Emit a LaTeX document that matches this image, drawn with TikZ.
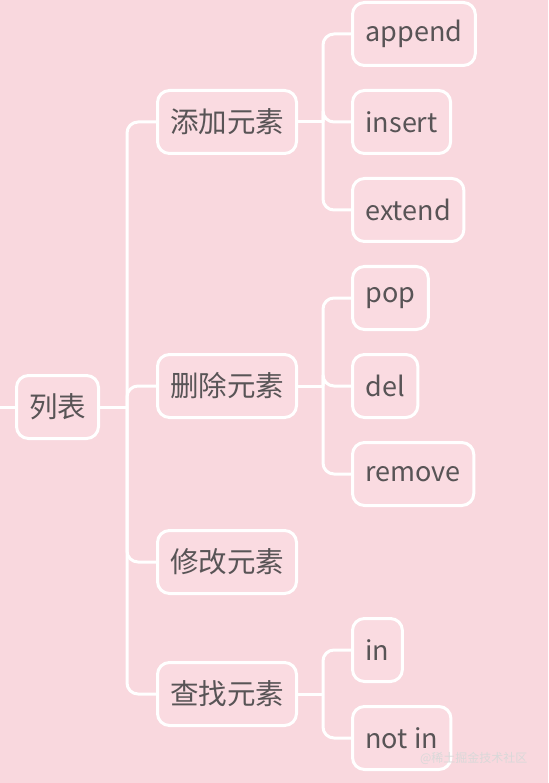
\documentclass[tikz,border=0pt]{standalone}
\usepackage{fontspec}
\setmainfont{Noto Sans CJK SC}
\definecolor{bgpink}{RGB}{249,216,222}
\definecolor{boxpink}{RGB}{250,219,225}
\definecolor{txtgray}{RGB}{88,84,86}
\tikzset{
  topic/.style={draw=white, line width=3pt, rounded corners=12pt, fill=boxpink,
    text=txtgray, font=\fontsize{27}{30}\selectfont, minimum height=63pt,
    inner xsep=13pt, anchor=west},
  cntopic/.style={topic, font=\fontsize{28.5}{31}\selectfont, inner xsep=12.5pt},
  conn/.style={draw=white, line width=3pt, rounded corners=11pt}
}
\begin{document}
\begin{tikzpicture}[x=1pt, y=-1pt]
  \fill[bgpink] (0,0) rectangle (548,783);
  \useasboundingbox (0,0) rectangle (548,783);
  % root and branches
  \node[cntopic] (root) at (15,407) {列表};
  \node[cntopic] (add)  at (156,122) {添加元素};
  \node[cntopic] (del)  at (156,386) {删除元素};
  \node[cntopic] (mod)  at (156,562) {修改元素};
  \node[cntopic] (find) at (156,694) {查找元素};
  % leaves
  \node[topic] (append) at (351,34)  {append};
  \node[topic] (insert) at (351,122) {insert};
  \node[topic] (extend) at (351,210) {extend};
  \node[topic] (pop)    at (351,298) {pop};
  \node[topic] (delkw)  at (351,386) {del};
  \node[topic] (remove) at (351,474) {remove};
  \node[topic] (in)     at (351,650) {in};
  \node[topic] (notin)  at (351,738) {not in};
  % connectors
  \coordinate (rootin) at (0,407);
  \coordinate (rootfork) at (127,407);
  \draw[conn] (rootin) -- (root.west);
  \draw[conn] (root.east) -- (rootfork);
  \foreach \c in {add,del,mod,find}
    \draw[conn] (rootfork) |- (\c.west);
  \foreach \p/\kids in {add/{append,insert,extend}, del/{pop,delkw,remove}, find/{in,notin}} {
    \coordinate (\p fork) at (323,0 |- \p.east);
    \draw[conn] (\p.east) -- (\p fork);
    \foreach \k in \kids
      \draw[conn] (\p fork) |- (\k.west);
  }
  \node[text=white!70!gray, font=\fontsize{12}{14}\selectfont, anchor=east] (mark) at (531,758) {@稀土掘金技术社区};
\end{tikzpicture}
\end{document}
